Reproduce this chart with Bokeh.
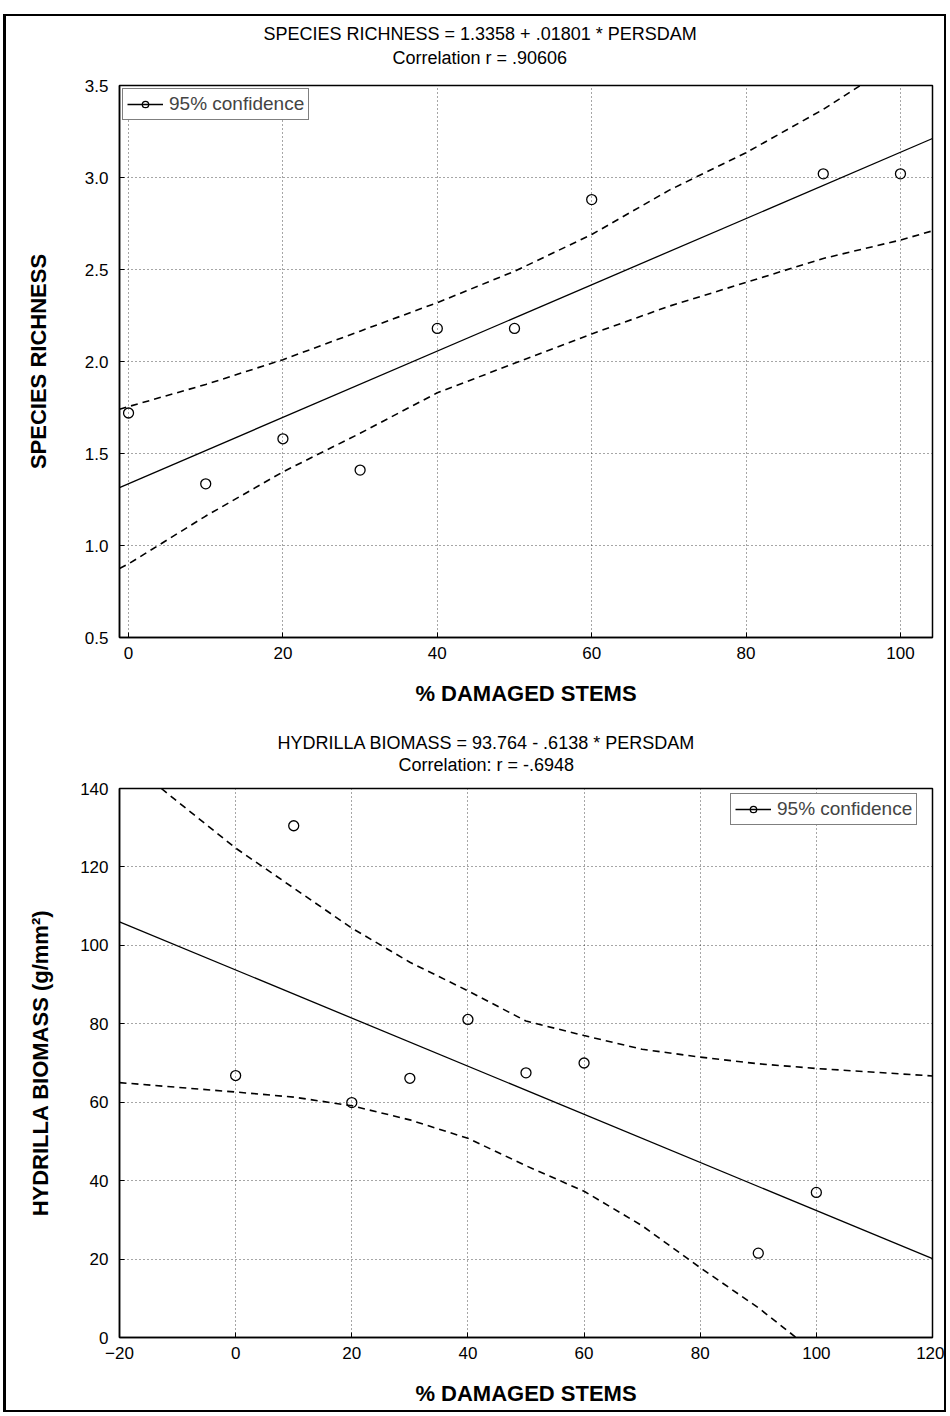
from bokeh.plotting import figure
from bokeh.models import Range1d, FixedTicker, Title, Legend, LegendItem, NumeralTickFormatter
from bokeh.layouts import column
from bokeh.embed import file_html
from bokeh.resources import INLINE

# ---------------- data: top panel ----------------
damaged = [0, 10, 20, 30, 40, 50, 60, 90, 100]
richness = [1.72, 1.335, 1.58, 1.41, 2.18, 2.18, 2.88, 3.02, 3.02]
rich_fit_x = [-1.17, 104.15]
rich_fit_y = [1.315, 3.212]
rich_up_x = [-1.17, 0, 10, 20, 30, 40, 50, 60, 70, 80, 90, 94.8]
rich_up_y = [1.74, 1.755, 1.875, 2.01, 2.165, 2.32, 2.49, 2.69, 2.93, 3.135, 3.37, 3.5]
rich_lo_x = [-1.17, 0, 10, 20, 30, 40, 50, 60, 70, 80, 90, 100, 104.15]
rich_lo_y = [0.875, 0.90, 1.16, 1.40, 1.61, 1.83, 1.99, 2.15, 2.30, 2.43, 2.56, 2.66, 2.71]
top_xticks = [0, 20, 40, 60, 80, 100]
top_yticks = [0.5, 1.0, 1.5, 2.0, 2.5, 3.0, 3.5]
top_title = ["SPECIES RICHNESS = 1.3358 + .01801 * PERSDAM", "Correlation r = .90606"]

# ---------------- data: bottom panel ----------------
biomass = [66.8, 130.5, 59.9, 66.1, 81.1, 67.5, 70.0, 21.5, 37.0]
bio_fit_x = [-20, 120]
bio_fit_y = [106.0, 20.1]
bio_up_x = [-12.8, 0, 10, 20, 30, 40, 50, 60, 70, 80, 90, 100, 120]
bio_up_y = [140, 124.8, 114.6, 104.4, 95.7, 88.4, 80.7, 77.0, 73.5, 71.5, 69.8, 68.6, 66.7]
bio_lo_x = [-20, 0, 10, 20, 30, 40, 50, 60, 70, 80, 90, 96.5]
bio_lo_y = [65.0, 62.6, 61.3, 59.1, 55.5, 50.8, 43.8, 37.3, 28.5, 17.8, 7.6, 0]
bot_xticks = [-20, 0, 20, 40, 60, 80, 100, 120]
bot_yticks = [0, 20, 40, 60, 80, 100, 120, 140]
bot_title = ["HYDRILLA BIOMASS = 93.764 - .6138 * PERSDAM", "Correlation: r = -.6948"]

FONT = "Liberation Sans"


def style(p, xticks, yticks, xlabel, ylabel, ylab_standoff):
    p.outline_line_color = "black"
    p.outline_line_width = 1.5
    p.background_fill_color = "white"
    p.border_fill_color = "white"
    p.xaxis.ticker = FixedTicker(ticks=xticks)
    p.yaxis.ticker = FixedTicker(ticks=yticks)
    for ax in (p.xaxis, p.yaxis):
        ax.axis_line_color = "black"
        ax.axis_line_width = 1.5
        ax.major_tick_in = 5
        ax.major_tick_out = 0
        ax.minor_tick_line_color = None
        ax.major_tick_line_color = "black"
        ax.major_label_text_font = FONT
        ax.major_label_text_font_size = "17px"
        ax.major_label_text_color = "black"
        ax.axis_label_text_font = FONT
        ax.axis_label_text_font_style = "bold"
        ax.axis_label_text_font_size = "22px"
        ax.axis_label_text_color = "black"
    p.xaxis.axis_label = xlabel
    p.yaxis.axis_label = ylabel
    p.xaxis.major_label_standoff = 9
    p.yaxis.major_label_standoff = 11
    p.xaxis.axis_label_standoff = 19
    p.yaxis.axis_label_standoff = ylab_standoff
    p.grid.grid_line_color = "black"
    p.grid.grid_line_dash = "1 3"
    p.grid.grid_line_alpha = 0.7
    p.grid.grid_line_width = 1


def add_titles(p, lines, offsets, standoffs):
    # second line first: it sits closest to the frame
    p.add_layout(Title(text=lines[1], align="left", offset=offsets[1], standoff=standoffs[1],
                       text_font=FONT, text_font_size="18px", text_font_style="normal",
                       text_color="black"), "above")
    p.add_layout(Title(text=lines[0], align="left", offset=offsets[0], standoff=standoffs[0],
                       text_font=FONT, text_font_size="18px", text_font_style="normal",
                       text_color="black"), "above")


def add_legend(p, rends, loc):
    leg = Legend(items=[LegendItem(label="95% confidence", renderers=rends)], location=loc)
    leg.border_line_color = "black"
    leg.border_line_width = 1.2
    leg.background_fill_alpha = 1.0
    leg.padding = 4
    leg.margin = 0
    leg.glyph_width = 36
    leg.glyph_height = 16
    leg.label_standoff = 6
    leg.label_text_font = FONT
    leg.label_text_font_size = "19px"
    leg.label_height = 16
    p.add_layout(leg)


# ---------------- top figure ----------------
p1 = figure(width=938, height=712, output_backend="svg", toolbar_location=None,
            x_range=Range1d(-1.17, 104.15), y_range=Range1d(0.5, 3.5),
            min_border_left=98, min_border_right=11, min_border_top=69, min_border_bottom=91)
style(p1, top_xticks, top_yticks, "% DAMAGED STEMS", "SPECIES RICHNESS", 31)
p1.yaxis.formatter = NumeralTickFormatter(format="0.0")
p1.line(rich_up_x, rich_up_y, line_color="black", line_width=1.6, line_dash="7 5")
p1.line(rich_lo_x, rich_lo_y, line_color="black", line_width=1.6, line_dash="7 5")
fit1 = p1.line(rich_fit_x, rich_fit_y, line_color="black", line_width=1.3)
pts1 = p1.scatter(damaged, richness, size=10, marker="circle", fill_color=None,
                  line_color="black", line_width=1.3)
add_legend(p1, [fit1, pts1], (3, 517))
add_titles(p1, top_title, [144, 273], [-32, 36])

# ---------------- bottom figure ----------------
p2 = figure(width=938, height=682, output_backend="svg", toolbar_location=None,
            x_range=Range1d(-20, 120), y_range=Range1d(0, 140),
            min_border_left=113, min_border_right=12, min_border_top=60, min_border_bottom=73)
style(p2, bot_xticks, bot_yticks, "% DAMAGED STEMS", "HYDRILLA BIOMASS (g/mm\u00b2)", 24)
p2.line(bio_up_x, bio_up_y, line_color="black", line_width=1.6, line_dash="7 5")
p2.line(bio_lo_x, bio_lo_y, line_color="black", line_width=1.6, line_dash="7 5")
fit2 = p2.line(bio_fit_x, bio_fit_y, line_color="black", line_width=1.3)
pts2 = p2.scatter(damaged, biomass, size=10, marker="circle", fill_color=None,
                  line_color="black", line_width=1.3)
add_legend(p2, [fit2, pts2], (611, 512))
add_titles(p2, bot_title, [158, 279], [-28, 28])

layout = column(p1, p2, styles={"margin-left": "3px", "margin-top": "14px",
                                "border-left": "3px solid black", "border-top": "2px solid black",
                                "border-right": "2px solid black", "border-bottom": "2px solid black"})

open("out.html", "w").write(file_html(layout, INLINE))
